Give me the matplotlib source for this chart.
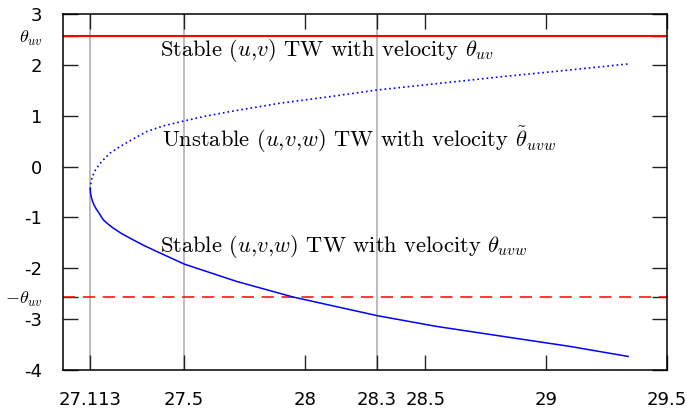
import numpy as np
import matplotlib
matplotlib.use("Agg")
import matplotlib.pyplot as plt

plt.rcParams['mathtext.fontset'] = 'cm'

# valores
theta_uv = 2.57

# rama inestable (arriba, punteada)
x_up = [27.113, 27.1135, 27.116, 27.12, 27.126, 27.134, 27.144, 27.155, 27.167, 27.194, 27.236,
        27.291, 27.346, 27.415, 27.502, 27.594, 27.691, 27.898, 28.105, 28.302, 28.546,
        28.822, 29.098, 29.339]
y_up = [-0.44, -0.38, -0.30, -0.22, -0.15, -0.07, 0.0, 0.07, 0.132, 0.263, 0.394,
        0.544, 0.688, 0.80, 0.898, 0.996, 1.081, 1.246, 1.375, 1.507, 1.63,
        1.77, 1.90, 2.018]

# rama estable (abajo, continua)
x_dn = [27.113, 27.1135, 27.117, 27.122, 27.128, 27.137, 27.147, 27.157, 27.167, 27.185,
        27.205, 27.24, 27.277, 27.33, 27.388, 27.502, 27.719, 27.953, 28.302, 28.546,
        28.822, 29.098, 29.339]
y_dn = [-0.44, -0.50, -0.60, -0.68, -0.75, -0.83, -0.90, -0.975, -1.047, -1.125,
        -1.20, -1.31, -1.407, -1.54, -1.67, -1.918, -2.259, -2.566, -2.933, -3.143,
        -3.340, -3.536, -3.733]

x_ticks = [27.113, 27.5, 28, 28.3, 28.5, 29, 29.5]
x_labels = ["27.113", "27.5", "28", "28.3", "28.5", "29", "29.5"]
y_ticks = [3, theta_uv, 2, 1, 0, -1, -2, -theta_uv, -3, -4]
y_labels = ["3", r"$\theta_{uv}$", "2", "1", "0", "-1", "-2", r"$-\theta_{uv}$", "-3", "-4"]
v_lines = [27.113, 27.5, 28.3]

fig = plt.figure(figsize=(6.87, 4.13), dpi=100)
ax = fig.add_axes([63/687, 43/413, 604/687, 356/413])

for xv in v_lines:
    ax.axvline(xv, color='#aaaaaa', lw=1.1, zorder=1)

ax.axhline(theta_uv, color='#ff0000', lw=1.5, zorder=2)
ax.axhline(-theta_uv, color='#ff0000', lw=1.1, dashes=(8, 5), zorder=2)

ax.plot(x_up, y_up, color='#0000ff', lw=1.2, linestyle=(0, (1, 1.8)), zorder=3)
ax.plot(x_dn, y_dn, color='#0000ff', lw=1.1, zorder=3)

tfont = dict(fontsize=16.2, family='cmr10', color='black')
ax.text(27.401, 2.175, r"Stable $(u{,}v)$ TW with velocity $\theta_{uv}$", **tfont)
ax.text(27.41, 0.393, r"Unstable $(u{,}v{,}w)$ TW with velocity $\tilde{\theta}_{uvw}$", **tfont)
ax.text(27.401, -1.67, r"Stable $(u{,}v{,}w)$ TW with velocity $\theta_{uvw}$", **tfont)

ax.set_xlim(27.0, 29.5)
ax.set_ylim(-4, 3)
ax.set_xticks(x_ticks)
ax.set_xticklabels(x_labels)
ax.set_yticks(y_ticks)
ax.set_yticklabels(y_labels)
ax.tick_params(axis='both', direction='in', length=10.8, width=1.0, color='#222222',
               labelsize=13, pad=15, top=True, right=True)

for s in ax.spines.values():
    s.set_linewidth(1.1)

fig.savefig("out.png", dpi=100)
